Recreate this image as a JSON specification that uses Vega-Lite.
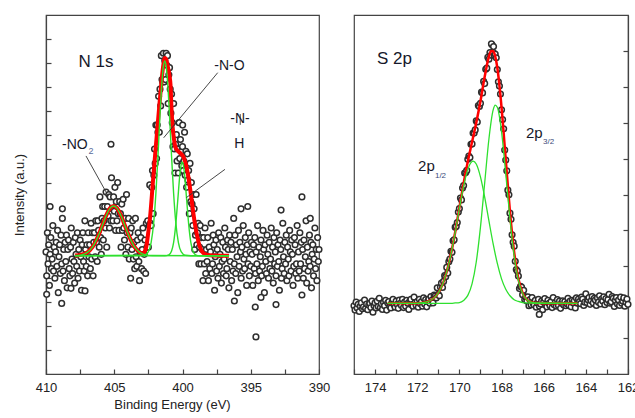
{
"$schema": "https://vega.github.io/schema/vega-lite/v6.json",
"background": "white",
"padding": {"left": 12, "top": 14, "right": 0, "bottom": 0},
"spacing": 35,
"bounds": "flush",
"config": {
 "view": {"stroke": "#444", "strokeWidth": 1.2},
 "font": "Liberation Sans",
 "axis": {"grid": false, "domainColor": "#444", "domainWidth": 1.2, "tickColor": "#444", "tickWidth": 1.2, "tickSize": -5, "labelFont": "Liberation Sans", "labelFontSize": 13, "labelColor": "#222", "titleFont": "Liberation Sans", "titleFontSize": 13, "titleFontWeight": "normal", "titleColor": "#222", "labelFlush": false, "labelOverlap": false}
},
"datasets": {
 "np": [{"e":410,"i":5.1},{"e":409.95,"i":4.1},{"e":409.9,"i":5.9},{"e":409.85,"i":4.6},{"e":409.8,"i":5.4},{"e":409.75,"i":3.7},{"e":409.7,"i":5.0},{"e":409.65,"i":5.7},{"e":409.6,"i":4.4},{"e":409.55,"i":4.8},{"e":409.5,"i":6.2},{"e":409.45,"i":4.3},{"e":409.4,"i":5.3},{"e":409.35,"i":4.0},{"e":409.3,"i":5.1},{"e":409.25,"i":5.5},{"e":409.2,"i":4.5},{"e":409.15,"i":6.0},{"e":409.1,"i":3.4},{"e":409.05,"i":4.9},{"e":409,"i":5.4},{"e":408.95,"i":4.2},{"e":408.9,"i":5.8},{"e":408.85,"i":4.6},{"e":408.8,"i":6.5},{"e":408.75,"i":4.3},{"e":408.7,"i":5.2},{"e":408.65,"i":3.9},{"e":408.6,"i":5.5},{"e":408.55,"i":4.7},{"e":408.5,"i":5.8},{"e":408.45,"i":3.6},{"e":408.4,"i":5.2},{"e":408.35,"i":5.6},{"e":408.3,"i":4.4},{"e":408.25,"i":4.1},{"e":408.2,"i":5.3},{"e":408.15,"i":6.1},{"e":408.1,"i":4.8},{"e":408.05,"i":4.2},{"e":408,"i":5.5},{"e":407.95,"i":4.7},{"e":407.9,"i":3.8},{"e":407.85,"i":5.7},{"e":407.8,"i":5.0},{"e":407.75,"i":4.5},{"e":407.7,"i":5.9},{"e":407.65,"i":4.0},{"e":407.6,"i":5.2},{"e":407.55,"i":4.3},{"e":407.5,"i":5.6},{"e":407.45,"i":4.9},{"e":407.4,"i":3.5},{"e":407.35,"i":5.4},{"e":407.3,"i":5.9},{"e":407.25,"i":4.7},{"e":407.2,"i":4.3},{"e":407.15,"i":6.4},{"e":407.1,"i":5.2},{"e":407.05,"i":4.5},{"e":407,"i":5.4},{"e":406.95,"i":4.1},{"e":406.9,"i":5.9},{"e":406.85,"i":4.9},{"e":406.8,"i":5.4},{"e":406.75,"i":4.4},{"e":406.7,"i":6.3},{"e":406.65,"i":4.8},{"e":406.6,"i":5.9},{"e":406.55,"i":4.1},{"e":406.5,"i":5.5},{"e":406.45,"i":5.9},{"e":406.4,"i":4.9},{"e":406.35,"i":6.4},{"e":406.3,"i":5.5},{"e":406.25,"i":4.7},{"e":406.2,"i":6.4},{"e":406.15,"i":6.0},{"e":406.1,"i":5.3},{"e":406.05,"i":7.4},{"e":406,"i":5.7},{"e":405.95,"i":5.0},{"e":405.9,"i":6.5},{"e":405.85,"i":7.0},{"e":405.8,"i":5.6},{"e":405.75,"i":6.4},{"e":405.7,"i":7.0},{"e":405.65,"i":6.1},{"e":405.6,"i":7.6},{"e":405.55,"i":5.3},{"e":405.5,"i":7.0},{"e":405.45,"i":6.6},{"e":405.4,"i":7.5},{"e":405.35,"i":6.1},{"e":405.3,"i":7.4},{"e":405.25,"i":6.4},{"e":405.2,"i":8.2},{"e":405.15,"i":6.9},{"e":405.1,"i":6.4},{"e":405.05,"i":7.4},
 {"e":405,"i":6.8},{"e":404.95,"i":7.8},{"e":404.9,"i":6.0},{"e":404.85,"i":7.2},{"e":404.8,"i":6.4},{"e":404.75,"i":8.0},{"e":404.7,"i":6.7},{"e":404.65,"i":6.0},{"e":404.6,"i":7.2},{"e":404.55,"i":6.7},{"e":404.5,"i":5.3},{"e":404.45,"i":7.1},{"e":404.4,"i":6.0},{"e":404.35,"i":7.3},{"e":404.3,"i":6.1},{"e":404.25,"i":5.6},{"e":404.2,"i":6.5},{"e":404.15,"i":5.0},{"e":404.1,"i":7.5},{"e":404.05,"i":5.9},{"e":404,"i":5.3},{"e":403.95,"i":6.5},{"e":403.9,"i":4.8},{"e":403.85,"i":5.9},{"e":403.8,"i":4.0},{"e":403.75,"i":6.1},{"e":403.7,"i":5.2},{"e":403.65,"i":6.4},{"e":403.6,"i":4.8},{"e":403.55,"i":5.5},{"e":403.5,"i":4.4},{"e":403.45,"i":6.5},{"e":403.4,"i":4.9},{"e":403.35,"i":4.5},{"e":403.3,"i":5.6},{"e":403.25,"i":5.9},{"e":403.2,"i":4.7},{"e":403.15,"i":3.9},{"e":403.1,"i":5.1},{"e":403.05,"i":5.7},{"e":403,"i":4.4},{"e":402.95,"i":5.2},{"e":402.9,"i":6.1},{"e":402.85,"i":4.3},{"e":402.8,"i":5.0},{"e":402.75,"i":5.6},{"e":402.7,"i":4.2},{"e":402.65,"i":6.3},{"e":402.6,"i":5.3},{"e":402.55,"i":6.4},{"e":402.5,"i":5.3},{"e":402.45,"i":6.2},{"e":402.4,"i":7.9},{"e":402.35,"i":6.3},{"e":402.3,"i":6.2},{"e":402.25,"i":7.8},{"e":402.2,"i":8.5},{"e":402.15,"i":6.7},{"e":402.1,"i":8.3},{"e":402.05,"i":9.4},{"e":402,"i":8.8},{"e":401.95,"i":10.4},{"e":401.9,"i":9.0},{"e":401.85,"i":10.4},{"e":401.8,"i":10.1},{"e":401.75,"i":11.6},{"e":401.7,"i":10.1},{"e":401.65,"i":11.9},{"e":401.6,"i":11.2},{"e":401.55,"i":13.3},{"e":401.5,"i":12.3},{"e":401.45,"i":12.2},{"e":401.4,"i":13.4},{"e":401.35,"i":12.2},{"e":401.3,"i":13.1},{"e":401.25,"i":12.3},{"e":401.2,"i":13.4},{"e":401.15,"i":12.9},{"e":401.1,"i":13.3},{"e":401.05,"i":11.3},{"e":401,"i":12.5},{"e":400.95,"i":12.8},{"e":400.9,"i":11.9},{"e":400.85,"i":10.9},{"e":400.8,"i":11.7},{"e":400.75,"i":10.5},{"e":400.7,"i":9.5},{"e":400.65,"i":11.3},{"e":400.6,"i":9.4},{"e":400.55,"i":8.4},{"e":400.5,"i":9.6},{"e":400.45,"i":10.0},{"e":400.4,"i":8.9},{"e":400.35,"i":9.4},{"e":400.3,"i":8.4},{"e":400.25,"i":10.5},{"e":400.2,"i":9.0},{"e":400.15,"i":9.8},{"e":400.1,"i":9.3},{"e":400.05,"i":8.7},
 {"e":400,"i":9.5},{"e":399.95,"i":8.5},{"e":399.9,"i":8.9},{"e":399.85,"i":10.1},{"e":399.8,"i":8.3},{"e":399.75,"i":9.3},{"e":399.7,"i":7.8},{"e":399.65,"i":9.2},{"e":399.6,"i":8.1},{"e":399.55,"i":8.5},{"e":399.5,"i":6.7},{"e":399.45,"i":8.8},{"e":399.4,"i":7.2},{"e":399.35,"i":8.0},{"e":399.3,"i":7.1},{"e":399.25,"i":6.2},{"e":399.2,"i":7.5},{"e":399.15,"i":6.9},{"e":399.1,"i":5.2},{"e":399.05,"i":5.8},{"e":399,"i":7.5},{"e":398.95,"i":5.4},{"e":398.9,"i":5.9},{"e":398.85,"i":6.3},{"e":398.8,"i":4.6},{"e":398.75,"i":5.3},{"e":398.7,"i":6.2},{"e":398.65,"i":4.6},{"e":398.6,"i":5.7},{"e":398.55,"i":5.2},{"e":398.5,"i":3.9},{"e":398.45,"i":5.7},{"e":398.4,"i":4.6},{"e":398.35,"i":6.1},{"e":398.3,"i":4.2},{"e":398.25,"i":5.2},{"e":398.2,"i":4.7},{"e":398.15,"i":5.7},{"e":398.1,"i":3.9},{"e":398.05,"i":5.3},{"e":398,"i":4.4},{"e":397.95,"i":5.1},{"e":397.9,"i":6.3},{"e":397.85,"i":4.2},{"e":397.8,"i":4.6},{"e":397.75,"i":5.8},{"e":397.7,"i":5.4},{"e":397.65,"i":3.5},{"e":397.6,"i":4.9},{"e":397.55,"i":5.6},{"e":397.5,"i":4.3},{"e":397.45,"i":5.2},{"e":397.4,"i":4.0},{"e":397.35,"i":5.9},{"e":397.3,"i":4.5},{"e":397.25,"i":5.0},{"e":397.2,"i":5.7},{"e":397.15,"i":3.8},{"e":397.1,"i":4.7},{"e":397.05,"i":5.5},{"e":397,"i":4.2},{"e":396.95,"i":4.8},{"e":396.9,"i":6.1},{"e":396.85,"i":5.3},{"e":396.8,"i":4.1},{"e":396.75,"i":4.4},{"e":396.7,"i":5.6},{"e":396.65,"i":5.2},{"e":396.6,"i":3.6},{"e":396.55,"i":5.8},{"e":396.5,"i":4.7},{"e":396.45,"i":5.5},{"e":396.4,"i":3.9},{"e":396.35,"i":5.2},{"e":396.3,"i":4.3},{"e":396.25,"i":6.5},{"e":396.2,"i":4.6},{"e":396.15,"i":5.8},{"e":396.1,"i":4.2},{"e":396.05,"i":5.4},{"e":396,"i":4.9},{"e":395.95,"i":3.4},{"e":395.9,"i":6.0},{"e":395.85,"i":4.5},{"e":395.8,"i":5.5},{"e":395.75,"i":5.1},{"e":395.7,"i":4.0},{"e":395.65,"i":5.3},{"e":395.6,"i":4.3},{"e":395.55,"i":6.2},{"e":395.5,"i":4.8},{"e":395.45,"i":4.4},{"e":395.4,"i":5.7},{"e":395.35,"i":5.0},{"e":395.3,"i":3.7},{"e":395.25,"i":5.4},{"e":395.2,"i":4.6},{"e":395.15,"i":5.9},{"e":395.1,"i":4.1},{"e":395.05,"i":5.1},
 {"e":395,"i":4.5},{"e":394.95,"i":5.5},{"e":394.9,"i":5.0},{"e":394.85,"i":3.7},{"e":394.8,"i":5.4},{"e":394.75,"i":4.4},{"e":394.7,"i":5.7},{"e":394.65,"i":4.2},{"e":394.6,"i":5.1},{"e":394.55,"i":4.6},{"e":394.5,"i":6.2},{"e":394.45,"i":3.9},{"e":394.4,"i":5.3},{"e":394.35,"i":4.3},{"e":394.3,"i":4.9},{"e":394.25,"i":5.6},{"e":394.2,"i":4.1},{"e":394.15,"i":4.5},{"e":394.1,"i":6.0},{"e":394.05,"i":5.2},{"e":394,"i":3.4},{"e":393.95,"i":5.4},{"e":393.9,"i":4.7},{"e":393.85,"i":4.2},{"e":393.8,"i":5.8},{"e":393.75,"i":5.0},{"e":393.7,"i":4.0},{"e":393.65,"i":5.5},{"e":393.6,"i":4.4},{"e":393.55,"i":4.8},{"e":393.5,"i":6.1},{"e":393.45,"i":4.3},{"e":393.4,"i":5.3},{"e":393.35,"i":3.8},{"e":393.3,"i":5.7},{"e":393.25,"i":4.6},{"e":393.2,"i":5.1},{"e":393.15,"i":4.1},{"e":393.1,"i":5.9},{"e":393.05,"i":4.5},{"e":393,"i":5.4},{"e":392.95,"i":4.7},{"e":392.9,"i":3.5},{"e":392.85,"i":5.6},{"e":392.8,"i":5.2},{"e":392.75,"i":4.0},{"e":392.7,"i":4.4},{"e":392.65,"i":6.3},{"e":392.6,"i":4.9},{"e":392.55,"i":4.2},{"e":392.5,"i":5.5},{"e":392.45,"i":4.6},{"e":392.4,"i":5.8},{"e":392.35,"i":3.9},{"e":392.3,"i":5.3},{"e":392.25,"i":4.8},{"e":392.2,"i":4.1},{"e":392.15,"i":6.0},{"e":392.1,"i":5.1},{"e":392.05,"i":4.3},{"e":392,"i":5.6},{"e":391.95,"i":5.0},{"e":391.9,"i":3.7},{"e":391.85,"i":4.5},{"e":391.8,"i":5.7},{"e":391.75,"i":5.4},{"e":391.7,"i":4.2},{"e":391.65,"i":4.6},{"e":391.6,"i":6.2},{"e":391.55,"i":4.0},{"e":391.5,"i":5.1},{"e":391.45,"i":4.3},{"e":391.4,"i":5.9},{"e":391.35,"i":4.6},{"e":391.3,"i":5.5},{"e":391.25,"i":3.3},{"e":391.2,"i":5.2},{"e":391.15,"i":4.0},{"e":391.1,"i":5.6},{"e":391.05,"i":4.4},{"e":391,"i":4.9},{"e":390.95,"i":6.4},{"e":390.9,"i":3.8},{"e":390.85,"i":5.3},{"e":390.8,"i":4.3},{"e":390.75,"i":4.7},{"e":390.7,"i":5.8},{"e":390.65,"i":4.5},{"e":390.6,"i":5.5},{"e":390.55,"i":3.6},{"e":390.5,"i":5.0},{"e":390.45,"i":5.4},{"e":390.4,"i":4.1},{"e":390.35,"i":4.8},{"e":390.3,"i":6.1},{"e":390.25,"i":4.4},{"e":390.2,"i":5.2},{"e":390.15,"i":3.9},{"e":390.1,"i":5.7},{"e":390.05,"i":4.7},{"e":390,"i":5.2},
 {"e":405.24,"i":9.6},{"e":391.25,"i":7.4},{"e":394.62,"i":1.55},{"e":408.85,"i":2.95},{"e":394.67,"i":2.8},{"e":393.15,"i":2.9},{"e":396.2,"i":3.05},{"e":394.25,"i":3.2},{"e":409.7,"i":7.0},{"e":408.8,"i":6.9},{"e":395.71,"i":6.9},{"e":395.22,"i":7.0},{"e":392.78,"i":6.85},{"e":390.64,"i":6.5},{"e":399.99,"i":10.4},{"e":409.95,"i":3.33},{"e":407.14,"i":3.47},{"e":408.17,"i":3.58}],
 "nred": [{"e":407.88,"i":4.95},{"e":407.4,"i":4.98},{"e":407,"i":5.07},{"e":406.6,"i":5.3},{"e":406.2,"i":5.74},{"e":405.9,"i":6.17},{"e":405.6,"i":6.61},{"e":405.3,"i":6.93},{"e":405.05,"i":7.02},{"e":404.8,"i":6.93},{"e":404.5,"i":6.61},{"e":404.2,"i":6.17},{"e":403.9,"i":5.74},{"e":403.5,"i":5.3},{"e":403.1,"i":5.07},{"e":402.9,"i":5.03},{"e":402.67,"i":5.28},{"e":402.5,"i":5.95},{"e":402.38,"i":6.53},{"e":402.18,"i":7.93},{"e":402,"i":9.2},{"e":401.85,"i":10.2},{"e":401.7,"i":11.2},{"e":401.55,"i":12.15},{"e":401.42,"i":12.85},{"e":401.3,"i":13.2},{"e":401.2,"i":13.15},{"e":401.08,"i":12.85},{"e":400.95,"i":12.45},{"e":400.88,"i":12.1},{"e":400.8,"i":11.0},{"e":400.72,"i":10.3},{"e":400.62,"i":9.8},{"e":400.5,"i":9.45},{"e":400.3,"i":9.3},{"e":400.11,"i":9.2},{"e":399.91,"i":9.05},{"e":399.75,"i":8.75},{"e":399.62,"i":8.4},{"e":399.48,"i":7.9},{"e":399.34,"i":7.31},{"e":399.2,"i":6.7},{"e":399.05,"i":6.14},{"e":398.9,"i":5.7},{"e":398.75,"i":5.35},{"e":398.55,"i":5.1},{"e":398.35,"i":5.01},{"e":398,"i":4.96},{"e":396.59,"i":4.94}],
 "ngreen": [{"c":"a","e":407.88,"i":4.95},{"c":"a","e":407.4,"i":4.98},{"c":"a","e":407,"i":5.07},{"c":"a","e":406.6,"i":5.3},{"c":"a","e":406.2,"i":5.74},{"c":"a","e":405.9,"i":6.17},{"c":"a","e":405.6,"i":6.61},{"c":"a","e":405.3,"i":6.93},{"c":"a","e":405.05,"i":7.02},{"c":"a","e":404.8,"i":6.93},{"c":"a","e":404.5,"i":6.61},{"c":"a","e":404.2,"i":6.17},{"c":"a","e":403.9,"i":5.74},{"c":"a","e":403.5,"i":5.3},{"c":"a","e":403.1,"i":5.07},{"c":"a","e":402.7,"i":4.98},{"c":"a","e":402.2,"i":4.95},{"c":"a","e":396.59,"i":4.94},
  {"c":"b","e":407.88,"i":4.94},{"c":"b","e":402.8,"i":4.96},{"c":"b","e":402.5,"i":5.11},{"c":"b","e":402.3,"i":5.49},{"c":"b","e":402.1,"i":6.38},{"c":"b","e":401.95,"i":7.54},{"c":"b","e":401.8,"i":9.08},{"c":"b","e":401.65,"i":10.79},{"c":"b","e":401.5,"i":12.25},{"c":"b","e":401.4,"i":12.86},{"c":"b","e":401.3,"i":13.08},{"c":"b","e":401.2,"i":12.86},{"c":"b","e":401.1,"i":12.25},{"c":"b","e":400.95,"i":10.79},{"c":"b","e":400.8,"i":9.08},{"c":"b","e":400.65,"i":7.54},{"c":"b","e":400.5,"i":6.38},{"c":"b","e":400.3,"i":5.49},{"c":"b","e":400.1,"i":5.11},{"c":"b","e":399.8,"i":4.96},{"c":"b","e":399.4,"i":4.94},{"c":"b","e":396.59,"i":4.94},
  {"c":"h","e":407.88,"i":4.94},{"c":"h","e":401.3,"i":4.94},{"c":"h","e":401,"i":4.98},{"c":"h","e":400.8,"i":5.14},{"c":"h","e":400.65,"i":5.5},{"c":"h","e":400.5,"i":6.21},{"c":"h","e":400.35,"i":7.24},{"c":"h","e":400.2,"i":8.29},{"c":"h","e":400.1,"i":8.74},{"c":"h","e":400.02,"i":8.86},{"c":"h","e":399.94,"i":8.74},{"c":"h","e":399.84,"i":8.29},{"c":"h","e":399.69,"i":7.24},{"c":"h","e":399.54,"i":6.21},{"c":"h","e":399.39,"i":5.5},{"c":"h","e":399.24,"i":5.14},{"c":"h","e":399.04,"i":4.98},{"c":"h","e":398.74,"i":4.94},{"c":"h","e":396.59,"i":4.94}],
 "sp": [{"e":175,"i":1.9},{"e":174.95,"i":1.78},{"e":174.9,"i":2.0},{"e":174.85,"i":1.84},{"e":174.8,"i":1.94},{"e":174.75,"i":1.74},{"e":174.7,"i":1.89},{"e":174.65,"i":1.98},{"e":174.6,"i":1.82},{"e":174.55,"i":1.87},{"e":174.5,"i":2.06},{"e":174.45,"i":1.83},{"e":174.4,"i":1.95},{"e":174.35,"i":1.79},{"e":174.3,"i":1.92},{"e":174.25,"i":1.97},{"e":174.2,"i":1.85},{"e":174.15,"i":2.03},{"e":174.1,"i":1.72},{"e":174.05,"i":1.9},{"e":174,"i":1.98},{"e":173.95,"i":1.84},{"e":173.9,"i":2.03},{"e":173.85,"i":1.88},{"e":173.8,"i":2.11},{"e":173.75,"i":1.85},{"e":173.7,"i":1.96},{"e":173.65,"i":1.8},{"e":173.6,"i":1.99},{"e":173.55,"i":1.9},{"e":173.5,"i":2.05},{"e":173.45,"i":1.78},{"e":173.4,"i":1.98},{"e":173.35,"i":2.02},{"e":173.3,"i":1.88},{"e":173.25,"i":1.84},{"e":173.2,"i":1.99},{"e":173.15,"i":2.08},{"e":173.1,"i":1.93},{"e":173.05,"i":1.86},{"e":173,"i":2.03},{"e":172.95,"i":1.94},{"e":172.9,"i":1.83},{"e":172.85,"i":2.06},{"e":172.8,"i":1.97},{"e":172.75,"i":1.91},{"e":172.7,"i":2.08},{"e":172.65,"i":1.85},{"e":172.6,"i":2.0},{"e":172.55,"i":1.89},{"e":172.5,"i":2.05},{"e":172.45,"i":1.97},{"e":172.4,"i":1.8},{"e":172.35,"i":2.03},{"e":172.3,"i":2.08},{"e":172.25,"i":1.93},{"e":172.2,"i":1.89},{"e":172.15,"i":2.14},{"e":172.1,"i":1.99},{"e":172.05,"i":1.91},{"e":172,"i":2.02},{"e":171.95,"i":1.86},{"e":171.9,"i":2.08},{"e":171.85,"i":1.96},{"e":171.8,"i":2.02},{"e":171.75,"i":1.89},{"e":171.7,"i":2.12},{"e":171.65,"i":1.95},{"e":171.6,"i":2.07},{"e":171.55,"i":1.87},{"e":171.5,"i":2.03},{"e":171.45,"i":2.09},{"e":171.4,"i":1.97},{"e":171.35,"i":2.16},{"e":171.3,"i":2.06},{"e":171.25,"i":1.98},{"e":171.2,"i":2.2},{"e":171.15,"i":2.17},{"e":171.1,"i":2.12},{"e":171.05,"i":2.4},{"e":171,"i":2.22},{"e":170.95,"i":2.18},{"e":170.9,"i":2.42},{"e":170.85,"i":2.53},{"e":170.8,"i":2.41},{"e":170.75,"i":2.58},{"e":170.7,"i":2.74},{"e":170.65,"i":2.71},{"e":170.6,"i":2.97},{"e":170.55,"i":2.81},{"e":170.5,"i":3.13},{"e":170.45,"i":3.2},{"e":170.4,"i":3.42},{"e":170.35,"i":3.39},{"e":170.3,"i":3.71},{"e":170.25,"i":3.74},{"e":170.2,"i":4.09},{"e":170.15,"i":4.11},{"e":170.1,"i":4.22},{"e":170.05,"i":4.51},
 {"e":170,"i":4.61},{"e":169.95,"i":4.9},{"e":169.9,"i":4.85},{"e":169.85,"i":5.18},{"e":169.8,"i":5.25},{"e":169.75,"i":5.6},{"e":169.7,"i":5.61},{"e":169.65,"i":5.67},{"e":169.6,"i":5.98},{"e":169.55,"i":6.07},{"e":169.5,"i":6.03},{"e":169.45,"i":6.4},{"e":169.4,"i":6.41},{"e":169.35,"i":6.71},{"e":169.3,"i":6.71},{"e":169.25,"i":6.8},{"e":169.2,"i":7.05},{"e":169.15,"i":7.02},{"e":169.1,"i":7.48},{"e":169.05,"i":7.45},{"e":169,"i":7.54},{"e":168.95,"i":7.85},{"e":168.9,"i":7.83},{"e":168.85,"i":8.15},{"e":168.8,"i":8.09},{"e":168.75,"i":8.49},{"e":168.7,"i":8.52},{"e":168.65,"i":8.82},{"e":168.6,"i":8.77},{"e":168.55,"i":8.95},{"e":168.5,"i":8.88},{"e":168.45,"i":9.17},{"e":168.4,"i":8.96},{"e":168.35,"i":8.87},{"e":168.3,"i":8.91},{"e":168.25,"i":8.81},{"e":168.2,"i":8.48},{"e":168.15,"i":8.14},{"e":168.1,"i":8.02},{"e":168.05,"i":7.8},{"e":168,"i":7.36},{"e":167.95,"i":7.09},{"e":167.9,"i":6.83},{"e":167.85,"i":6.24},{"e":167.8,"i":5.96},{"e":167.75,"i":5.66},{"e":167.7,"i":5.12},{"e":167.65,"i":4.99},{"e":167.6,"i":4.48},{"e":167.55,"i":4.31},{"e":167.5,"i":3.88},{"e":167.45,"i":3.67},{"e":167.4,"i":3.56},{"e":167.35,"i":3.14},{"e":167.3,"i":2.91},{"e":167.25,"i":2.87},{"e":167.2,"i":2.73},{"e":167.15,"i":2.38},{"e":167.1,"i":2.44},{"e":167.05,"i":2.42},{"e":167,"i":2.21},{"e":166.95,"i":2.33},{"e":166.9,"i":2.07},{"e":166.85,"i":2.14},{"e":166.8,"i":2.03},{"e":166.75,"i":2.15},{"e":166.7,"i":1.9},{"e":166.65,"i":2.07},{"e":166.6,"i":1.93},{"e":166.55,"i":2.13},{"e":166.5,"i":1.97},{"e":166.45,"i":1.92},{"e":166.4,"i":2.05},{"e":166.35,"i":1.86},{"e":166.3,"i":1.98},{"e":166.25,"i":2.08},{"e":166.2,"i":1.89},{"e":166.15,"i":1.95},{"e":166.1,"i":2.03},{"e":166.05,"i":1.79},{"e":166,"i":2.01},{"e":165.95,"i":2.1},{"e":165.9,"i":1.92},{"e":165.85,"i":1.87},{"e":165.8,"i":2.05},{"e":165.75,"i":1.97},{"e":165.7,"i":1.9},{"e":165.65,"i":2.02},{"e":165.6,"i":1.85},{"e":165.55,"i":2.13},{"e":165.5,"i":1.93},{"e":165.45,"i":1.99},{"e":165.4,"i":1.89},{"e":165.35,"i":2.07},{"e":165.3,"i":1.91},{"e":165.25,"i":2.03},{"e":165.2,"i":1.83},{"e":165.15,"i":1.98},{"e":165.1,"i":2.04},{"e":165.05,"i":1.92},
 {"e":165,"i":2.02},{"e":164.95,"i":1.9},{"e":164.9,"i":1.96},{"e":164.85,"i":2.11},{"e":164.8,"i":1.91},{"e":164.75,"i":2.03},{"e":164.7,"i":1.87},{"e":164.65,"i":2.05},{"e":164.6,"i":1.98},{"e":164.55,"i":2.04},{"e":164.5,"i":1.84},{"e":164.45,"i":2.12},{"e":164.4,"i":1.97},{"e":164.35,"i":2.09},{"e":164.3,"i":2.02},{"e":164.25,"i":1.96},{"e":164.2,"i":2.14},{"e":164.15,"i":2.09},{"e":164.1,"i":1.91},{"e":164.05,"i":2.0},{"e":164,"i":2.23},{"e":163.95,"i":1.99},{"e":163.9,"i":2.07},{"e":163.85,"i":2.13},{"e":163.8,"i":1.94},{"e":163.75,"i":2.04},{"e":163.7,"i":2.16},{"e":163.65,"i":1.98},{"e":163.6,"i":2.11},{"e":163.55,"i":2.06},{"e":163.5,"i":1.91},{"e":163.45,"i":2.12},{"e":163.4,"i":2.0},{"e":163.35,"i":2.18},{"e":163.3,"i":1.95},{"e":163.25,"i":2.09},{"e":163.2,"i":2.03},{"e":163.15,"i":2.15},{"e":163.1,"i":1.93},{"e":163.05,"i":2.1},{"e":163,"i":1.99},{"e":162.95,"i":2.07},{"e":162.9,"i":2.22},{"e":162.85,"i":1.97},{"e":162.8,"i":2.01},{"e":162.75,"i":2.16},{"e":162.7,"i":2.11},{"e":162.65,"i":1.88},{"e":162.6,"i":2.05},{"e":162.55,"i":2.13},{"e":162.5,"i":1.95},{"e":162.45,"i":2.06},{"e":162.4,"i":1.91},{"e":162.35,"i":2.14},{"e":162.3,"i":1.97},{"e":162.25,"i":2.03},{"e":162.2,"i":2.12},{"e":162.15,"i":1.89},{"e":162.1,"i":2.0},{"e":162.05,"i":2.09},{"e":162,"i":1.94},
 {"e":168.48,"i":9.2},{"e":168.38,"i":9.12},{"e":166.21,"i":1.66}],
 "sred": [{"e":173.4,"i":1.97},{"e":172.4,"i":1.97},{"e":172,"i":1.97},{"e":171.6,"i":2.0},{"e":171.2,"i":2.12},{"e":171,"i":2.26},{"e":170.8,"i":2.49},{"e":170.6,"i":2.85},{"e":170.4,"i":3.34},{"e":170.2,"i":3.95},{"e":170,"i":4.63},{"e":169.8,"i":5.31},{"e":169.6,"i":5.92},{"e":169.4,"i":6.46},{"e":169.2,"i":7.0},{"e":169,"i":7.6},{"e":168.8,"i":8.28},{"e":168.6,"i":8.84},{"e":168.5,"i":8.99},{"e":168.4,"i":9.0},{"e":168.3,"i":8.85},{"e":168.2,"i":8.53},{"e":168,"i":7.43},{"e":167.8,"i":5.97},{"e":167.6,"i":4.52},{"e":167.4,"i":3.39},{"e":167.2,"i":2.65},{"e":167,"i":2.26},{"e":166.8,"i":2.07},{"e":166.6,"i":2.0},{"e":166.4,"i":1.98},{"e":165.4,"i":1.97},{"e":164.4,"i":1.97}],
 "sgreen": [{"c":"p3","e":173.4,"i":1.97},{"c":"p3","e":170.4,"i":1.97},{"c":"p3","e":170.2,"i":1.98},{"c":"p3","e":170,"i":1.99},{"c":"p3","e":169.8,"i":2.05},{"c":"p3","e":169.6,"i":2.19},{"c":"p3","e":169.4,"i":2.51},{"c":"p3","e":169.2,"i":3.12},{"c":"p3","e":169,"i":4.09},{"c":"p3","e":168.8,"i":5.32},{"c":"p3","e":168.6,"i":6.54},{"c":"p3","e":168.4,"i":7.35},{"c":"p3","e":168.3,"i":7.49},{"c":"p3","e":168.2,"i":7.43},{"c":"p3","e":168,"i":6.75},{"c":"p3","e":167.8,"i":5.58},{"c":"p3","e":167.6,"i":4.32},{"c":"p3","e":167.4,"i":3.29},{"c":"p3","e":167.2,"i":2.61},{"c":"p3","e":167,"i":2.24},{"c":"p3","e":166.8,"i":2.07},{"c":"p3","e":166.6,"i":2.0},{"c":"p3","e":166.4,"i":1.98},{"c":"p3","e":164.4,"i":1.97},
  {"c":"p1","e":173.4,"i":1.97},{"c":"p1","e":172,"i":1.97},{"c":"p1","e":171.6,"i":2.0},{"c":"p1","e":171.2,"i":2.12},{"c":"p1","e":171,"i":2.26},{"c":"p1","e":170.8,"i":2.49},{"c":"p1","e":170.6,"i":2.85},{"c":"p1","e":170.4,"i":3.34},{"c":"p1","e":170.2,"i":3.94},{"c":"p1","e":170,"i":4.61},{"c":"p1","e":169.8,"i":5.23},{"c":"p1","e":169.6,"i":5.7},{"c":"p1","e":169.4,"i":5.92},{"c":"p1","e":169.35,"i":5.93},{"c":"p1","e":169.2,"i":5.85},{"c":"p1","e":169,"i":5.49},{"c":"p1","e":168.8,"i":4.93},{"c":"p1","e":168.6,"i":4.27},{"c":"p1","e":168.4,"i":3.63},{"c":"p1","e":168.2,"i":3.08},{"c":"p1","e":168,"i":2.65},{"c":"p1","e":167.8,"i":2.36},{"c":"p1","e":167.6,"i":2.18},{"c":"p1","e":167.4,"i":2.07},{"c":"p1","e":167.2,"i":2.02},{"c":"p1","e":167,"i":1.99},{"c":"p1","e":166.8,"i":1.98},{"c":"p1","e":166.4,"i":1.97},{"c":"p1","e":164.4,"i":1.97}]
},
"hconcat": [
 {
  "width": 273, "height": 359,
  "encoding": {
   "x": {"field": "e", "type": "quantitative", "scale": {"domain": [390, 410], "reverse": true, "nice": false, "zero": false}, "axis": {"title": "Binding Energy (eV)", "values": [390, 392.5, 395, 397.5, 400, 402.5, 405, 407.5, 410], "labelExpr": "datum.value % 5 == 0 ? datum.label : ''", "format": "d", "labelPadding": 12, "titleX": 126}},
   "y": {"field": "i", "type": "quantitative", "scale": {"domain": [0, 15], "nice": false, "zero": false}, "axis": {"title": "Intensity (a.u.)", "values": [1,2,3,4,5,6,7,8,9,10,11,12,13,14], "labels": false, "titlePadding": 19}}
  },
  "layer": [
   {"data": {"name": "np"}, "mark": {"type": "circle", "size": 32, "fill": "white", "stroke": "#2e2e2e", "strokeWidth": 1.5, "opacity": 1}},
   {"data": {"name": "nred"}, "mark": {"type": "line", "color": "#ff0000", "strokeWidth": 4, "interpolate": "monotone"}},
   {"data": {"name": "ngreen"}, "mark": {"type": "line", "color": "#2ee02e", "strokeWidth": 1.4, "interpolate": "monotone"}, "encoding": {"detail": {"field": "c"}}},
   {"data": {"values": [{"e":407.07,"i":9.11,"e2":405.44,"i2":7.44},{"e":397.42,"i":12.59,"e2":401.38,"i2":9.87},{"e":396.89,"i":8.55,"e2":399.72,"i2":7.37},{"e":395.77,"i":10.41,"e2":395.77,"i2":10.86}]}, "mark": {"type": "rule", "color": "#333", "strokeWidth": 0.9}, "encoding": {"x2": {"field": "e2"}, "y2": {"field": "i2"}}},
   {"data": {"values": [{"e":407.61,"i":12.83,"t":"N 1s"}]}, "mark": {"type": "text", "align": "left", "baseline": "alphabetic", "fontSize": 17, "font": "Liberation Sans", "color": "#16182a"}, "encoding": {"text": {"field": "t"}}},
   {"data": {"values": [{"e":408.83,"i":9.42,"t":"-NO"},{"e":397.67,"i":12.69,"t":"-N-O"},{"e":396.5,"i":10.5,"t":"-N-"},{"e":396.21,"i":9.46,"t":"H"}]}, "mark": {"type": "text", "align": "left", "baseline": "alphabetic", "fontSize": 14, "font": "Liberation Sans", "color": "#16182a"}, "encoding": {"text": {"field": "t"}}},
   {"data": {"values": [{"e":406.89,"i":9.19,"t":"2"}]}, "mark": {"type": "text", "align": "left", "baseline": "alphabetic", "fontSize": 9, "font": "Liberation Sans", "color": "#5a6a9a"}, "encoding": {"text": {"field": "t"}}}
  ]
 },
 {
  "width": 274, "height": 359,
  "encoding": {
   "x": {"field": "e", "type": "quantitative", "scale": {"domain": [162, 175], "reverse": true, "nice": false, "zero": false}, "axis": {"title": null, "values": [162,163,164,165,166,167,168,169,170,171,172,173,174,175], "labelExpr": "datum.value % 2 == 0 ? datum.label : ''", "format": "d", "labelPadding": 12}},
   "y": {"field": "i", "type": "quantitative", "scale": {"domain": [0, 10], "nice": false, "zero": false}, "axis": {"orient": "right", "title": null, "values": [1,2,3,4,5,6,7,8,9], "labels": false}}
  },
  "layer": [
   {"data": {"name": "sp"}, "mark": {"type": "circle", "size": 32, "fill": "white", "stroke": "#2e2e2e", "strokeWidth": 1.5, "opacity": 1}},
   {"data": {"name": "sred"}, "mark": {"type": "line", "color": "#ff0000", "strokeWidth": 2.5, "interpolate": "monotone"}},
   {"data": {"name": "sgreen"}, "mark": {"type": "line", "color": "#2ee02e", "strokeWidth": 1.3, "interpolate": "monotone"}, "encoding": {"detail": {"field": "c"}}},
   {"data": {"values": [{"e":173.91,"i":8.63,"t":"S 2p"}]}, "mark": {"type": "text", "align": "left", "baseline": "alphabetic", "fontSize": 17, "font": "Liberation Sans", "color": "#16182a"}, "encoding": {"text": {"field": "t"}}},
   {"data": {"values": [{"e":171.96,"i":5.65,"t":"2p"},{"e":166.84,"i":6.57,"t":"2p"}]}, "mark": {"type": "text", "align": "left", "baseline": "alphabetic", "fontSize": 15, "font": "Liberation Sans", "color": "#16182a"}, "encoding": {"text": {"field": "t"}}},
   {"data": {"values": [{"e":171.16,"i":5.46,"t":"1/2"},{"e":166.03,"i":6.41,"t":"3/2"}]}, "mark": {"type": "text", "align": "left", "baseline": "alphabetic", "fontSize": 8, "font": "Liberation Sans", "color": "#3a4a7a"}, "encoding": {"text": {"field": "t"}}}
  ]
 }
]
}
